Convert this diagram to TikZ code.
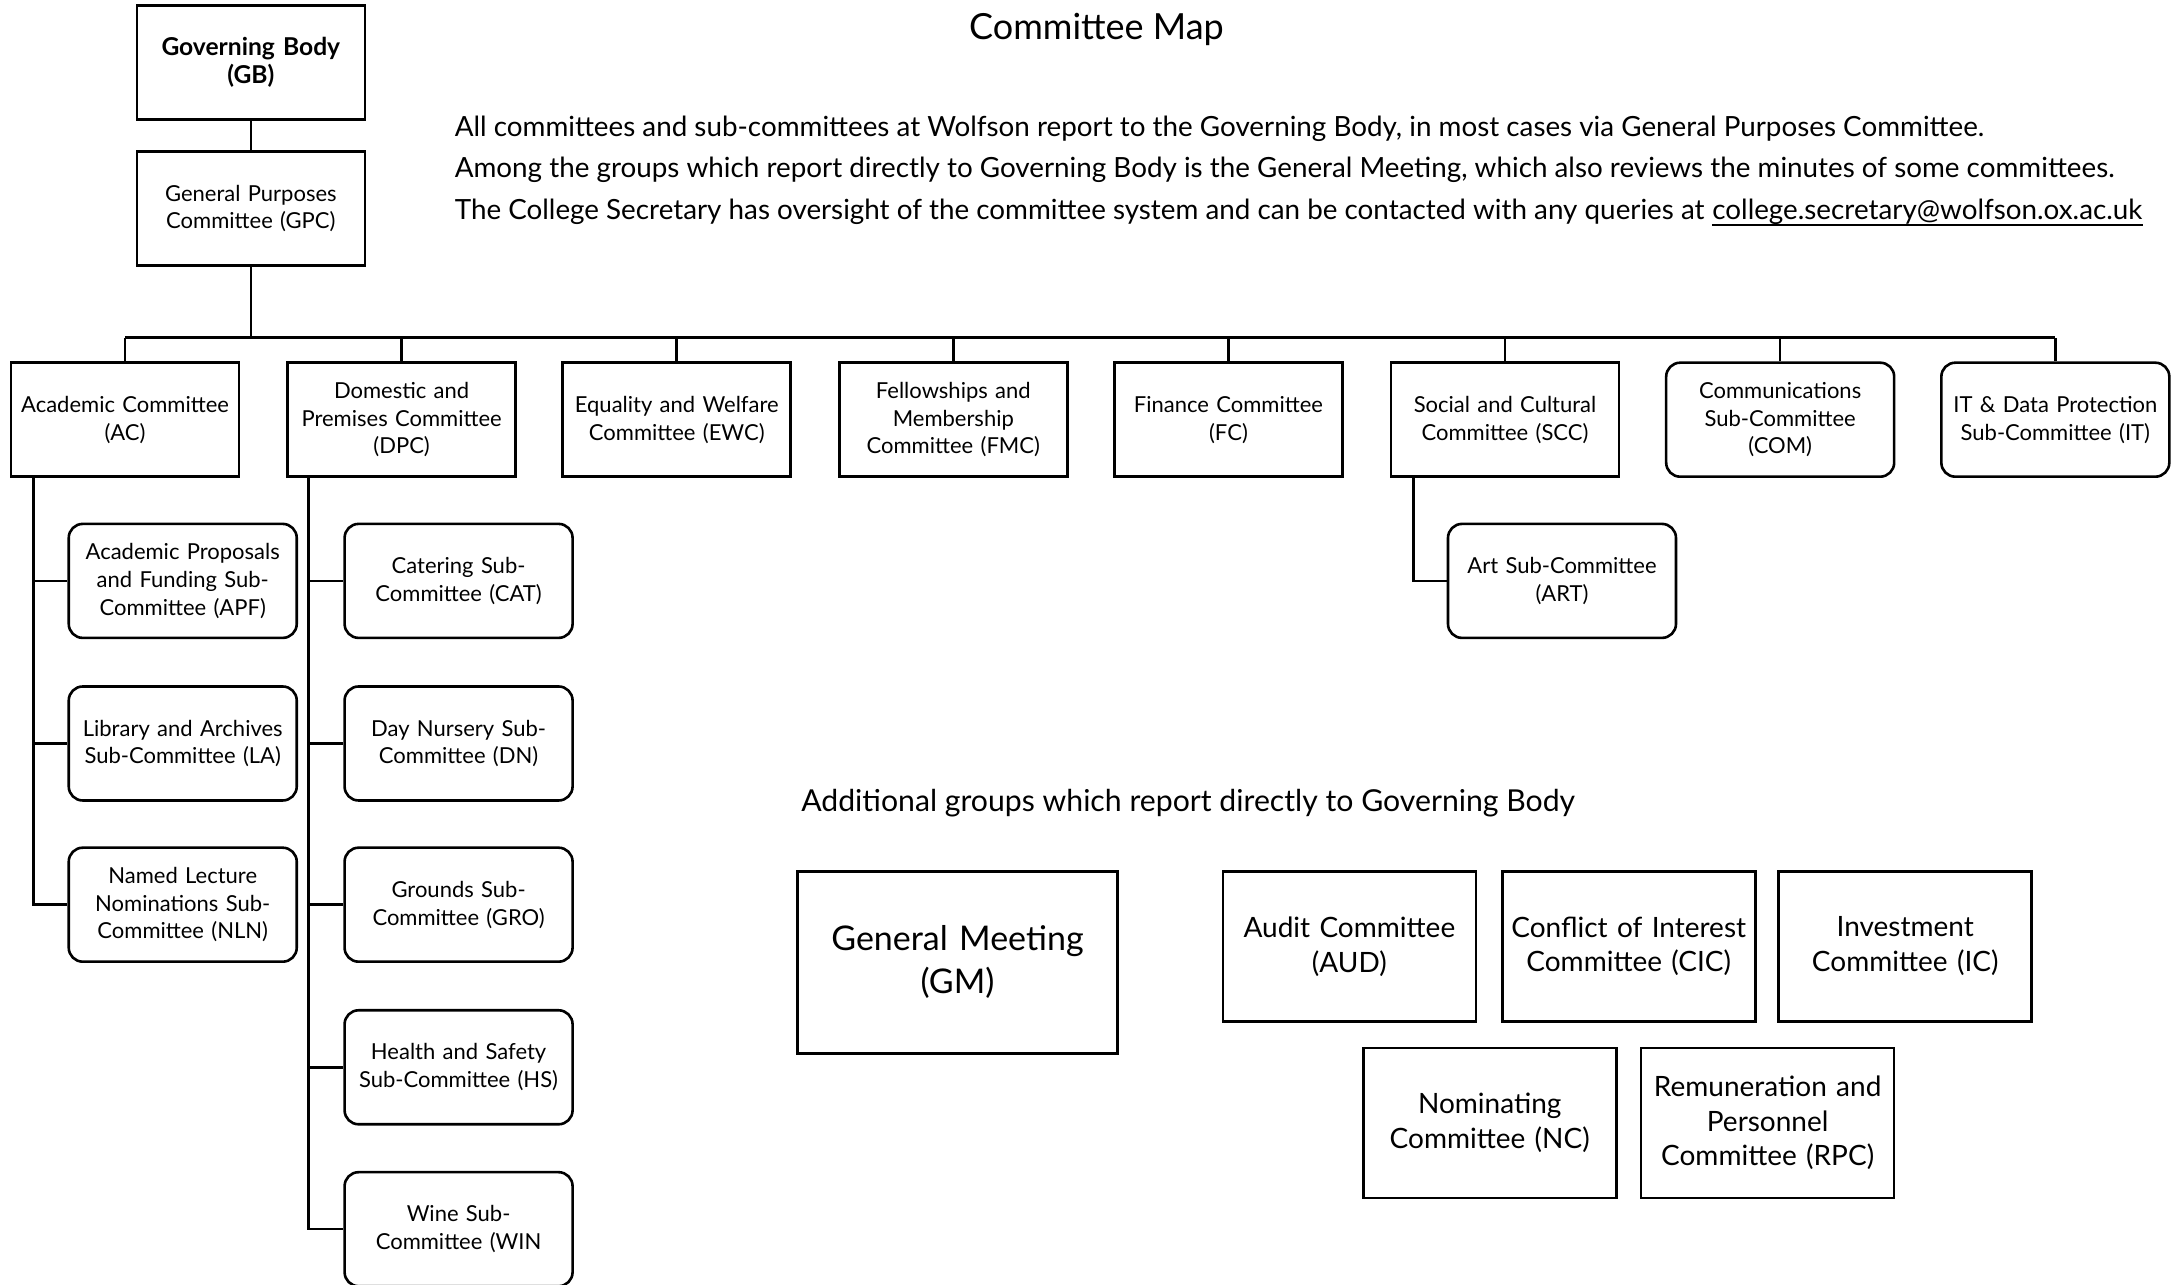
\documentclass[tikz,border=0pt]{standalone}
\usepackage{fontspec}
\setmainfont{Lato}
\begin{document}
\begin{tikzpicture}[x=0.69485pt,y=-0.69485pt,
  box/.style={draw,line width=1.3pt,align=center,inner sep=1pt,font=\fontsize{11}{13.9}\selectfont},
  sq/.style={box,minimum width=114pt,minimum height=57pt,text width=112pt},
  rbox/.style={sq,rounded corners=7pt},
  big/.style={draw,line width=1.3pt,align=center,inner sep=2pt,minimum width=126.5pt,minimum height=75pt,text width=120pt,font=\fontsize{14}{17.4}\selectfont},
  conn/.style={line width=1.3pt},
  para/.style={anchor=base west,inner sep=0pt,font=\fontsize{13.9}{17}\selectfont}]
\useasboundingbox (0,0) rectangle (1568,924);
% title and text
\node[font=\fontsize{18}{21}\selectfont] (title) at (789,21) {Committee Map};
\node[para] (p1) at (327,98) {All committees and sub-committees at Wolfson report to the Governing Body, in most cases via General Purposes Committee.};
\node[para] (p2) at (327,128) {Among the groups which report directly to Governing Body is the General Meeting, which also reviews the minutes of some committees.};
\node[para] (p3) at (327,158) {The College Secretary has oversight of the committee system and can be contacted with any queries at};
\node[para] (email) at ([xshift=3.6pt]p3.base east) {college.secretary@wolfson.ox.ac.uk};
\draw[line width=1.2pt] ([yshift=-2.6pt]email.base west) -- ([yshift=-2.6pt]email.base east);
% top
\node[sq,font=\bfseries\fontsize{12.3}{14}\selectfont] (GB) at (180.5,45) {Governing Body\\(GB)};
\node[sq] (GPC) at (180.5,150) {General Purposes\\Committee (GPC)};
% row 1
\node[sq] (AC) at (90,302) {Academic Committee\\(AC)};
\node[sq] (DPC) at (289,302) {Domestic and\\Premises Committee\\(DPC)};
\node[sq] (EWC) at (487,302) {Equality and Welfare\\Committee (EWC)};
\node[sq] (FMC) at (686,302) {Fellowships and\\Membership\\Committee (FMC)};
\node[sq] (FC) at (884,302) {Finance Committee\\(FC)};
\node[sq] (SCC) at (1083,302) {Social and Cultural\\Committee (SCC)};
\node[rbox] (COM) at (1281,302) {Communications\\Sub-Committee\\(COM)};
\node[rbox] (IT) at (1479,302) {IT \& Data Protection\\Sub-Committee (IT)};
% AC children
\node[rbox] (APF) at (131.5,418) {Academic Proposals\\and Funding Sub-\\Committee (APF)};
\node[rbox] (LA) at (131.5,535) {Library and Archives\\Sub-Committee (LA)};
\node[rbox] (NLN) at (131.5,651) {Named Lecture\\Nominations Sub-\\Committee (NLN)};
% DPC children
\node[rbox] (CAT) at (330,418) {Catering Sub-\\Committee (CAT)};
\node[rbox] (DN) at (330,535) {Day Nursery Sub-\\Committee (DN)};
\node[rbox] (GRO) at (330,651) {Grounds Sub-\\Committee (GRO)};
\node[rbox] (HS) at (330,768) {Health and Safety\\Sub-Committee (HS)};
\node[rbox] (WIN) at (330,884.5) {Wine Sub-\\Committee (WIN};
% SCC child
\node[rbox] (ART) at (1124,418) {Art Sub-Committee\\(ART)};
% connectors
\draw[conn] (GB) -- (GPC);
\coordinate (bus) at (180.5,243);
\draw[conn] (GPC.south) -- (bus);
\draw[conn] (AC.north |- bus) -- (IT.north |- bus);
\foreach \n in {AC,DPC,EWC,FMC,FC,SCC,COM,IT}
  \draw[conn] (\n.north) -- (\n.north |- bus);
\coordinate (acv) at ([xshift=17*0.69485pt]AC.south west);
\draw[conn] (acv) |- (NLN.west);
\draw[conn] (acv |- APF.west) -- (APF.west);
\draw[conn] (acv |- LA.west) -- (LA.west);
\coordinate (dpcv) at ([xshift=16*0.69485pt]DPC.south west);
\draw[conn] (dpcv) |- (WIN.west);
\foreach \n in {CAT,DN,GRO,HS}
  \draw[conn] (dpcv |- \n.west) -- (\n.west);
\coordinate (sccv) at ([xshift=17*0.69485pt]SCC.south west);
\draw[conn] (sccv) |- (ART.west);
% additional groups
\node[anchor=base,inner sep=0pt,font=\fontsize{15.1}{17}\selectfont] (addl) at (855,584) {Additional groups which report directly to Governing Body};
\node[big,minimum width=160pt,minimum height=91pt,text width=150pt,font=\fontsize{17}{21.5}\selectfont] (GM) at (689,692.5) {General Meeting\\(GM)};
\node[big] (AUD) at (971,681) {Audit Committee\\(AUD)};
\node[big] (CIC) at (1172,681) {Conflict of Interest\\Committee (CIC)};
\node[big] (IC) at (1371,681) {Investment\\Committee (IC)};
\node[big] (NC) at (1072,808) {Nominating\\Committee (NC)};
\node[big] (RPC) at (1272,808) {Remuneration and\\Personnel\\Committee (RPC)};
\end{tikzpicture}
\end{document}
